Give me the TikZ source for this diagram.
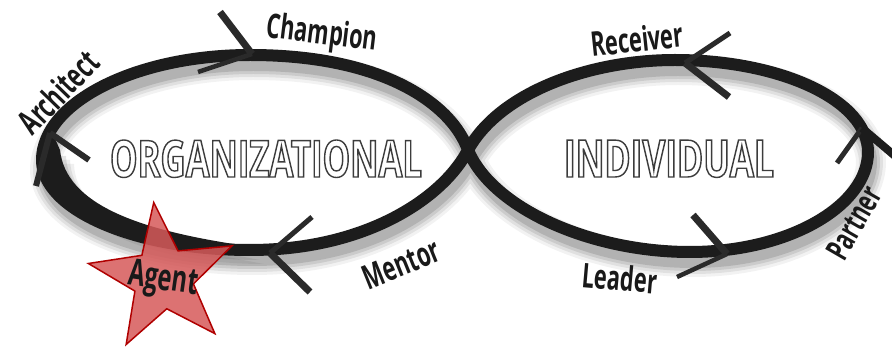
\documentclass[tikz,border=0pt]{standalone}
\usepackage{fontspec}
\newfontfamily\labfont[FakeStretch=0.64]{Open Sans}
\newfontfamily\outfont[FakeStretch=0.66]{Open Sans}
\definecolor{bandc}{HTML}{1C1C1C}
\definecolor{armc}{HTML}{2A2A2A}
\definecolor{starfill}{HTML}{D65A5A}
\definecolor{staredge}{HTML}{B00000}
\definecolor{outl}{HTML}{3C3C3C}
\newcommand{\outlinetext}[1]{\special{pdf:literal direct 1 Tr 1.4 w}#1\special{pdf:literal direct 0 Tr}}
\tikzset{
  eightpath/.style={insert path={(468,150) .. controls (452,105) and (385,55) .. (250,55)
    .. controls (135,55) and (42,103) .. (42,160)
    .. controls (42,210) and (135,250) .. (250,250)
    .. controls (370,250) and (445,195) .. (468,150)
    .. controls (500,92) and (590,60) .. (675,60)
    .. controls (780,60) and (868,100) .. (868,152)
    .. controls (868,205) and (790,252) .. (690,252)
    .. controls (590,252) and (492,208) .. (468,150) -- cycle}},
  bandline/.style={draw=bandc, line width=12pt, line join=round},
  armthick/.style={draw=armc, line width=7pt, line cap=butt},
  armthin/.style={draw=armc, line width=4.5pt, line cap=butt},
  lab/.style={font={\labfont\bfseries\fontsize{34}{36}\selectfont}, text=black!90, inner sep=0pt},
  bigword/.style={inner sep=0pt, text=outl, anchor=base},
  starshape/.style={fill=starfill, fill opacity=0.85, draw=staredge, line width=1.5pt, line join=miter}
}
\begin{document}
\begin{tikzpicture}[x=1pt,y=-1pt]
\useasboundingbox (0,0) rectangle (892,347);
\fill[white] (0,0) rectangle (892,347);
% shadow
\foreach \w/\o in {30/0.05, 24/0.07, 18/0.09, 12/0.12}
  \draw[line width=\w pt, black, opacity=\o, line join=round, shift={(3,10)}] [eightpath];
\foreach \s/\o in {14/0.06, 10/0.08, 6/0.1}
  \fill[black, opacity=\o, shift={(\s,\s)}] (42,150) .. controls (42,210) and (135,250) .. (250,250)
    .. controls (140,230) and (62,205) .. (60,150) -- cycle;
% band
\draw[bandline] [eightpath];
\fill[bandc] (44,140) -- (42,160) .. controls (42,210) and (135,250) .. (250,250)
  -- (240,245) .. controls (140,230) and (66,205) .. (60,150) -- (52,132) -- cycle;
% arrow chevrons
\coordinate (chT) at (252,54); \coordinate (chA) at (220,12); \coordinate (chB) at (198,72);
\draw[armthick] (chA) -- (chT); \draw[armthin] (chB) -- (chT);
\coordinate (arT) at (50,133); \coordinate (arA) at (89,160); \coordinate (arB) at (36,186);
\draw[draw=armc, line width=6pt] (arA) -- (arT); \draw[draw=armc, line width=6pt] (arB) -- (arT);
\coordinate (meT) at (270,253); \coordinate (meA) at (312,217); \coordinate (meB) at (310,292);
\draw[draw=armc, line width=5pt] (meA) -- (meT); \draw[armthick] (meB) -- (meT);
\coordinate (reT) at (685,63); \coordinate (reA) at (730,33); \coordinate (reB) at (729,97);
\draw[draw=armc, line width=5pt] (reA) -- (reT); \draw[armthick] (reB) -- (reT);
\coordinate (paT) at (862,128); \coordinate (paA) at (837,163); \coordinate (paB) at (895,156);
\draw[draw=armc, line width=5pt] (paA) -- (paT); \draw[draw=bandc, line width=8pt] (paB) -- (paT);
\coordinate (leT) at (727,254); \coordinate (leA) at (693,215); \coordinate (leB) at (677,277);
\draw[armthick] (leA) -- (leT); \draw[armthin] (leB) -- (leT);
% star
\draw[starshape] ({163+76*cos(97)},{278-76*sin(97)})
  \foreach \i [evaluate=\i as \r using {ifthenelse(mod(\i,2)==0,76,31)}] in {1,...,9}
  { -- ({163+\r*cos(97+36*\i)},{278-\r*sin(97+36*\i)}) } -- cycle;
% labels
\node[lab, rotate=46] (architect) at (58,92) {Architect};
\node[lab, rotate=-7] (champion) at (322,35) {Champion};
\node[lab, rotate=22] (mentor) at (401,264) {Mentor};
\node[lab, rotate=6] (receiver) at (637,39) {Receiver};
\node[lab, rotate=60, font={\labfont\bfseries\fontsize{32}{34}\selectfont}] (partner) at (854,223) {Partner};
\node[lab, rotate=-5] (leader) at (620,278) {Leader};
\node[lab, rotate=-8, font={\labfont\bfseries\fontsize{37}{40}\selectfont}] (agent) at (163,281) {Agent};
% outlined words
\node[bigword] (org) at (266,177) {\resizebox{312pt}{37pt}{\outfont\bfseries\fontsize{52}{52}\selectfont\outlinetext{ORGANIZATIONAL}}};
\node[bigword] (ind) at (669,177) {\resizebox{210pt}{37pt}{\outfont\bfseries\fontsize{52}{52}\selectfont\outlinetext{INDIVIDUAL}}};
\end{tikzpicture}
\end{document}
